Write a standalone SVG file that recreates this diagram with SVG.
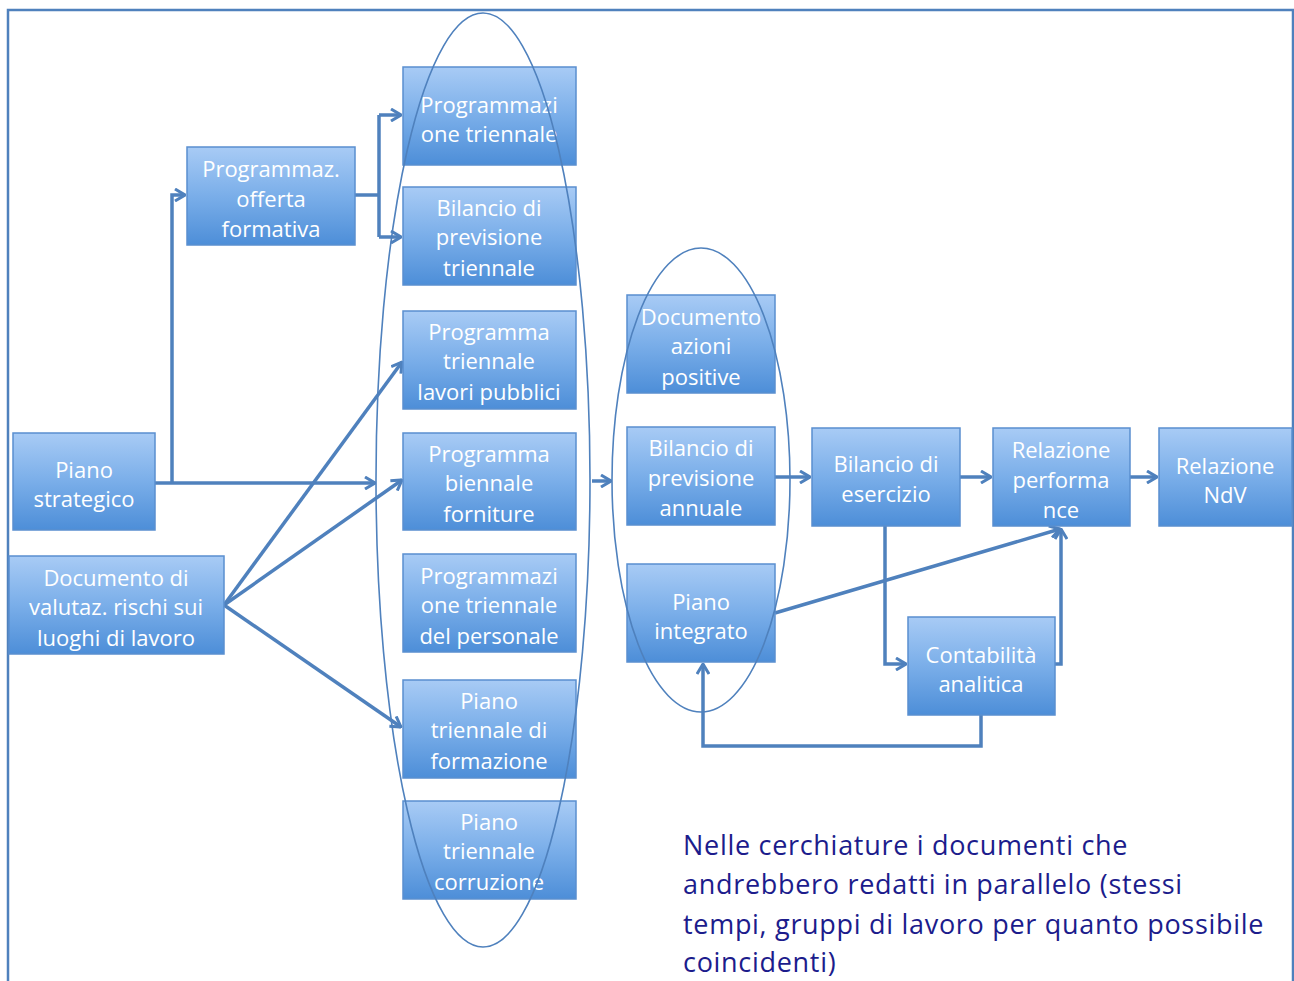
<svg xmlns="http://www.w3.org/2000/svg" width="1294" height="981" viewBox="0 0 1294 981">
<defs>
<linearGradient id="g" x1="0" y1="0" x2="0" y2="1">
<stop offset="0" stop-color="#a8cbf5"/>
<stop offset="0.5" stop-color="#7aaee9"/>
<stop offset="1" stop-color="#4d8ed8"/>
</linearGradient>
<marker id="ah" viewBox="0 0 12 14" refX="11" refY="7" markerWidth="12" markerHeight="14" markerUnits="userSpaceOnUse" orient="auto">
<path d="M1,1 L11,7 L1,13" fill="none" stroke="#4f81bd" stroke-width="3"/>
</marker>
</defs>
<style>
.box{fill:url(#g);stroke:#5a8fcf;stroke-width:1.5}
.t{font-family:"Open Sans","Liberation Sans",sans-serif;font-size:22px;fill:#ffffff;text-anchor:middle}
.c{fill:none;stroke:#4f81bd;stroke-width:3.5}
.ell{fill:none;stroke:#4f81bd;stroke-width:1.6}
.cap{font-family:"Open Sans","Liberation Sans",sans-serif;font-size:27px;letter-spacing:0.7px;fill:#1c1c8c}
</style>
<rect x="0" y="0" width="1294" height="981" fill="#ffffff"/>
<path d="M8,990 V10 H1293 V990" fill="none" stroke="#4f81bd" stroke-width="2.5"/>

<g id="connectors">
<path class="c" d="M155,483 H375" marker-end="url(#ah)"/>
<path class="c" d="M172,483 V195 H185" marker-end="url(#ah)"/>
<path class="c" d="M355,195 H379"/>
<path class="c" d="M379,115 V237"/>
<path class="c" d="M379,115 H401" marker-end="url(#ah)"/>
<path class="c" d="M379,237 H401" marker-end="url(#ah)"/>
<path class="c" d="M224,605 L402,362" marker-end="url(#ah)"/>
<path class="c" d="M224,605 L402,480" marker-end="url(#ah)"/>
<path class="c" d="M224,605 L401,727" marker-end="url(#ah)"/>
<path class="c" d="M592,481 H611" marker-end="url(#ah)"/>
<path class="c" d="M775,477 H810" marker-end="url(#ah)"/>
<path class="c" d="M960,477 H991" marker-end="url(#ah)"/>
<path class="c" d="M1130,477 H1157" marker-end="url(#ah)"/>
<path class="c" d="M775,613 L1060,529" marker-end="url(#ah)"/>
<path class="c" d="M885,526 V664 H906" marker-end="url(#ah)"/>
<path class="c" d="M1055,664 H1061 V529" marker-end="url(#ah)"/>
<path class="c" d="M981,715 V746 H703 V664" marker-end="url(#ah)"/>
</g>

<g id="n_offerta"><rect class="box" x="187" y="147" width="168" height="98"/><text class="t"><tspan x="271" y="177">Programmaz.</tspan><tspan x="271" y="207">offerta</tspan><tspan x="271" y="237">formativa</tspan></text></g>
<g id="n_progtri"><rect class="box" x="403" y="67" width="173" height="98"/><text class="t"><tspan x="489" y="113">Programmazi</tspan><tspan x="489" y="142">one triennale</tspan></text></g>
<g id="n_biltri"><rect class="box" x="403" y="187" width="173" height="98"/><text class="t"><tspan x="489" y="216">Bilancio di</tspan><tspan x="489" y="245">previsione</tspan><tspan x="489" y="276">triennale</tspan></text></g>
<g id="n_lavori"><rect class="box" x="403" y="311" width="173" height="98"/><text class="t"><tspan x="489" y="340">Programma</tspan><tspan x="489" y="369">triennale</tspan><tspan x="489" y="400">lavori pubblici</tspan></text></g>
<g id="n_forniture"><rect class="box" x="403" y="433" width="173" height="97"/><text class="t"><tspan x="489" y="462">Programma</tspan><tspan x="489" y="491">biennale</tspan><tspan x="489" y="522">forniture</tspan></text></g>
<g id="n_personale"><rect class="box" x="403" y="554" width="173" height="98"/><text class="t"><tspan x="489" y="584">Programmazi</tspan><tspan x="489" y="613">one triennale</tspan><tspan x="489" y="644">del personale</tspan></text></g>
<g id="n_formazione"><rect class="box" x="403" y="680" width="173" height="98"/><text class="t"><tspan x="489" y="709">Piano</tspan><tspan x="489" y="738">triennale di</tspan><tspan x="489" y="769">formazione</tspan></text></g>
<g id="n_corruzione"><rect class="box" x="403" y="801" width="173" height="98"/><text class="t"><tspan x="489" y="830">Piano</tspan><tspan x="489" y="859">triennale</tspan><tspan x="489" y="890">corruzione</tspan></text></g>
<g id="n_strategico"><rect class="box" x="13" y="433" width="142" height="97"/><text class="t"><tspan x="84" y="478">Piano</tspan><tspan x="84" y="507">strategico</tspan></text></g>
<g id="n_rischi"><rect class="box" x="9" y="556" width="215" height="98"/><text class="t"><tspan x="116" y="586">Documento di</tspan><tspan x="116" y="615">valutaz. rischi sui</tspan><tspan x="116" y="646">luoghi di lavoro</tspan></text></g>
<g id="n_azioni"><rect class="box" x="627" y="295" width="148" height="98"/><text class="t"><tspan x="701" y="325">Documento</tspan><tspan x="701" y="354">azioni</tspan><tspan x="701" y="385">positive</tspan></text></g>
<g id="n_bilann"><rect class="box" x="627" y="427" width="148" height="98"/><text class="t"><tspan x="701" y="456">Bilancio di</tspan><tspan x="701" y="486">previsione</tspan><tspan x="701" y="516">annuale</tspan></text></g>
<g id="n_integrato"><rect class="box" x="627" y="564" width="148" height="98"/><text class="t"><tspan x="701" y="610">Piano</tspan><tspan x="701" y="639">integrato</tspan></text></g>
<g id="n_esercizio"><rect class="box" x="812" y="428" width="148" height="98"/><text class="t"><tspan x="886" y="472">Bilancio di</tspan><tspan x="886" y="502">esercizio</tspan></text></g>
<g id="n_performance"><rect class="box" x="993" y="428" width="137" height="98"/><text class="t"><tspan x="1061" y="458">Relazione</tspan><tspan x="1061" y="488">performa</tspan><tspan x="1061" y="518">nce</tspan></text></g>
<g id="n_ndv"><rect class="box" x="1159" y="428" width="133" height="98"/><text class="t"><tspan x="1225" y="474">Relazione</tspan><tspan x="1225" y="503">NdV</tspan></text></g>
<g id="n_contabilita"><rect class="box" x="908" y="617" width="147" height="98"/><text class="t"><tspan x="981" y="663">Contabilità</tspan><tspan x="981" y="692">analitica</tspan></text></g>

<g id="ellipses">
<ellipse class="ell" cx="483" cy="480" rx="107" ry="467"/>
<ellipse class="ell" cx="701" cy="480" rx="89" ry="232"/>
</g>

<g id="caption">
<text class="cap"><tspan x="683" y="855">Nelle cerchiature i documenti che</tspan><tspan x="683" y="894">andrebbero redatti in parallelo (stessi</tspan><tspan x="683" y="934">tempi, gruppi di lavoro per quanto possibile</tspan><tspan x="683" y="972">coincidenti)</tspan></text>
</g>
</svg>
